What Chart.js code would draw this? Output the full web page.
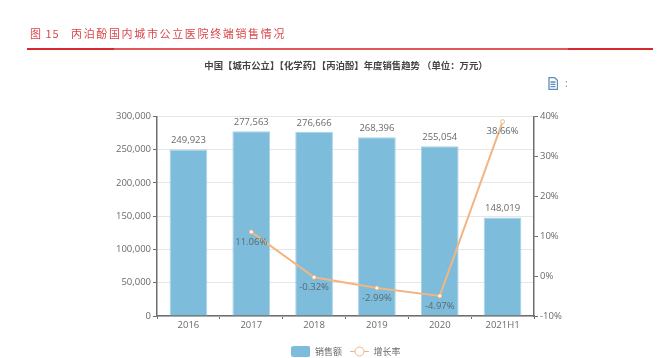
<!DOCTYPE html>
<html lang="zh">
<head>
  <meta charset="UTF-8">
  <title>丙泊酚国内城市公立医院终端销售情况</title>
  <script src="https://cdn.jsdelivr.net/npm/chart.js"></script>
  <style>
    body { margin: 0; background: #fff; width: 670px; height: 358px; overflow: hidden; position: relative; }
    #wrap { position: absolute; left: 0; top: 0; width: 670px; height: 358px; }
    #heading {
      position: absolute; left: 30px; top: 25px; color: #d8474a; white-space: pre;
      font: 11px/16px "Noto Sans CJK SC", sans-serif; letter-spacing: 1px;
    }
    #heading span { position: absolute; left: 41px; top: 0; letter-spacing: 1.65px; }
    .rule { position: absolute; background: #d8282c; }
    #icon { position: absolute; left: 548px; top: 77px; }
    #dots { position: absolute; left: 565px; top: 76px; color: #5b8db8; font: 10px/14px "Open Sans", sans-serif; }
  </style>
</head>
<body>
  <div id="wrap"><canvas id="salesChart"></canvas></div>
  <div id="heading">图 15<span>丙泊酚国内城市公立医院终端销售情况</span></div>
  <div class="rule" style="left:27px;top:48px;width:626px;height:2px;background:#e2575a"></div>
  <div class="rule" style="left:27px;top:48px;width:87px;height:2px"></div>
  <div class="rule" style="left:568px;top:48px;width:85px;height:2px"></div>
  <svg id="icon" width="10" height="13" viewBox="0 0 10 13">
    <path d="M1 .5h5.5L9.500 3.500V12.500H1z M2.500 5h5 M2.500 7.300h5 M2.500 9.600h5" fill="none" stroke="#5b8db8" stroke-width="1.300"/>
  </svg>
  <div id="dots">:</div>

  <script>
    const chartTitle = '中国【城市公立】【化学药】【丙泊酚】年度销售趋势 （单位：万元）';
    const categories = ['2016', '2017', '2018', '2019', '2020', '2021H1'];
    const salesValues = [249923, 277563, 276666, 268396, 255054, 148019];
    const growthValues = [null, 11.06, -0.32, -2.99, -4.97, 38.66];
    const growthLabels = [null, '11.06%', '-0.32%', '-2.99%', '-4.97%', '38.66%'];
    const salesName = '销售额';
    const growthName = '增长率';

    const barColor = '#7dbcda';
    const lineColor = '#f2b583';
    const textColor = '#6a6a6a';
    const axisColor = '#6e6e6e';

    // legend swatches, the line one has the ring in the middle
    function barSwatch() {
      const c = document.createElement('canvas');
      c.width = 19; c.height = 11;
      const ctx = c.getContext('2d');
      ctx.fillStyle = barColor;
      ctx.beginPath();
      ctx.roundRect(0, 0, 19, 11, 2);
      ctx.fill();
      return c;
    }
    function lineSwatch() {
      const c = document.createElement('canvas');
      c.width = 19; c.height = 13;
      const ctx = c.getContext('2d');
      ctx.strokeStyle = lineColor;
      ctx.lineWidth = 1;
      ctx.beginPath();
      ctx.moveTo(0, 6.5); ctx.lineTo(19, 6.5);
      ctx.stroke();
      ctx.beginPath();
      ctx.arc(9.5, 6.5, 4.5, 0, Math.PI * 2);
      ctx.fillStyle = '#fff';
      ctx.fill();
      ctx.stroke();
      return c;
    }

    // no datalabels plugin available, so draw the value labels here
    const valueLabels = {
      id: 'valueLabels',
      afterDatasetsDraw(chart) {
        const ctx = chart.ctx;
        ctx.save();
        ctx.font = '9.5px "Open Sans", sans-serif';
        ctx.textAlign = 'center';
        ctx.textBaseline = 'middle';
        ctx.fillStyle = textColor;
        chart.getDatasetMeta(1).data.forEach((bar, i) => {
          ctx.fillText(salesValues[i].toLocaleString('en-US'), bar.x, bar.y - 9);
        });
        ctx.fillStyle = '#5a6a72';
        chart.getDatasetMeta(0).data.forEach((pt, i) => {
          if (growthLabels[i]) ctx.fillText(growthLabels[i], pt.x, pt.y + 10);
        });
        ctx.restore();
      }
    };

    new Chart(document.getElementById('salesChart'), {
      data: {
        labels: categories,
        datasets: [
          {
            type: 'line',
            label: growthName,
            data: growthValues,
            yAxisID: 'yRate',
            order: 1,
            borderColor: lineColor,
            borderWidth: 2,
            pointRadius: 2,
            pointBorderWidth: 1,
            pointBackgroundColor: '#fff',
            pointBorderColor: lineColor,
            tension: 0
          },
          {
            type: 'bar',
            label: salesName,
            data: salesValues,
            yAxisID: 'ySales',
            order: 2,
            backgroundColor: barColor,
            borderColor: '#a9d3e7',
            borderWidth: 1,
            categoryPercentage: 1,
            barPercentage: 0.6
          }
        ]
      },
      options: {
        responsive: true,
        maintainAspectRatio: false,
        animation: false,
        layout: { padding: { left: 22, right: 0, top: 0, bottom: -8 } },
        plugins: {
          title: {
            display: true,
            text: chartTitle,
            color: '#444',
            font: { family: '"Noto Sans CJK SC", sans-serif', size: 9.400, weight: 'bold' },
            padding: { top: 60, bottom: 45 }
          },
          legend: {
            position: 'bottom',
            labels: {
              usePointStyle: true,
              pointStyleWidth: 19,
              padding: 8,
              color: textColor,
              font: { family: '"Noto Sans CJK SC", sans-serif', size: 9 },
              generateLabels() {
                return [
                  { text: salesName, pointStyle: barSwatch(), fontColor: textColor, lineWidth: 0, datasetIndex: 1 },
                  { text: growthName, pointStyle: lineSwatch(), fontColor: textColor, lineWidth: 0, datasetIndex: 0 }
                ];
              }
            }
          },
          tooltip: { enabled: false }
        },
        scales: {
          x: {
            grid: { drawOnChartArea: false, drawTicks: true, tickLength: 3, tickColor: axisColor },
            border: { color: axisColor, width: 1.5 },
            ticks: { color: textColor, font: { family: '"Open Sans", sans-serif', size: 9.5 }, padding: 1 },
            afterFit(axis) { axis.height = 23; }
          },
          ySales: {
            position: 'left',
            min: 0,
            max: 300000,
            grid: { color: '#e6e6e6', lineWidth: 1, tickColor: axisColor, tickLength: 4 },
            border: { color: axisColor, width: 1.5 },
            ticks: {
              stepSize: 50000,
              color: textColor,
              font: { family: '"Open Sans", sans-serif', size: 9.5 },
              padding: 2,
              callback: v => v.toLocaleString('en-US')
            },
            afterFit(axis) { axis.width = 135; }
          },
          yRate: {
            position: 'right',
            min: -10,
            max: 40,
            grid: { drawOnChartArea: false, tickColor: axisColor, tickLength: 4 },
            border: { color: axisColor, width: 1.5 },
            ticks: {
              stepSize: 10,
              color: textColor,
              font: { family: '"Open Sans", sans-serif', size: 9.5 },
              padding: 2,
              callback: v => v + '%'
            },
            afterFit(axis) { axis.width = 136; }
          }
        }
      },
      plugins: [valueLabels]
    });
  </script>
</body>
</html>
